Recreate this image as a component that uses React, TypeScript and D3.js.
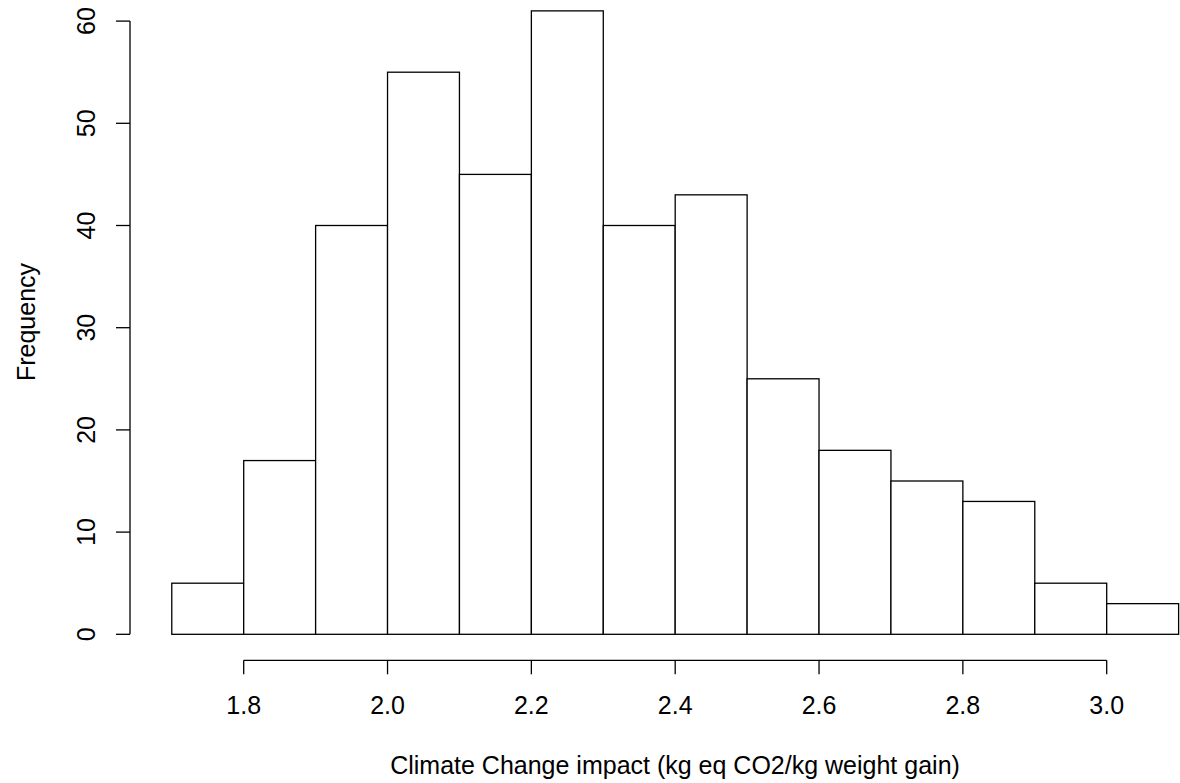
import React from 'react';
import * as d3 from 'd3';

// histogram bins (left edges) and counts
const binStarts = [1.7, 1.8, 1.9, 2.0, 2.1, 2.2, 2.3, 2.4, 2.5, 2.6, 2.7, 2.8, 2.9, 3.0];
const counts = [5, 17, 40, 55, 45, 61, 40, 43, 25, 18, 15, 13, 5, 3];
const binWidth = 0.1;
const xTicks = [1.8, 2.0, 2.2, 2.4, 2.6, 2.8, 3.0];
const yTicks = [0, 10, 20, 30, 40, 50, 60];

const W = 1180, H = 783;
const font = '"Liberation Sans", Arial, sans-serif';
const fs = 25;

export default function App() {
  const x = d3.scaleLinear().domain([1.8, 3.0]).range([243.7, 1106.7]);
  const y = d3.scaleLinear().domain([0, 60]).range([634.3, 21.1]);
  const axisY = 660.3;
  const axisX = 130;

  return (
    <svg width={W} height={H} style={{ position: 'absolute', left: 0, top: 0, background: '#fff' }}>
      <g fill="#fff" stroke="#000" strokeWidth={1.3}>
        {binStarts.map((b, i) => (
          <rect key={i} x={x(b)} y={y(counts[i])} width={x(b + binWidth) - x(b)} height={y(0) - y(counts[i])} />
        ))}
      </g>
      {/* x axis */}
      <g stroke="#000" strokeWidth={1.3} fill="none">
        <line x1={x(xTicks[0])} x2={x(xTicks[xTicks.length - 1])} y1={axisY} y2={axisY} />
        {xTicks.map(t => (
          <line key={t} x1={x(t)} x2={x(t)} y1={axisY} y2={axisY + 14} />
        ))}
      </g>
      <g fontFamily={font} fontSize={fs} fill="#000" textAnchor="middle">
        {xTicks.map(t => (
          <text key={t} x={x(t)} y={714}>{d3.format('.1f')(t)}</text>
        ))}
      </g>
      {/* y axis */}
      <g stroke="#000" strokeWidth={1.3} fill="none">
        <line x1={axisX} x2={axisX} y1={y(0)} y2={y(60)} />
        {yTicks.map(t => (
          <line key={t} x1={axisX - 14} x2={axisX} y1={y(t)} y2={y(t)} />
        ))}
      </g>
      <g fontFamily={font} fontSize={fs} fill="#000" textAnchor="middle">
        {yTicks.map(t => (
          <text key={t} transform={`translate(${95},${y(t)}) rotate(-90)`}>{t}</text>
        ))}
        <text transform={`translate(${35},${322}) rotate(-90)`}>Frequency</text>
        <text x={675} y={774}>Climate Change impact (kg eq CO2/kg weight gain)</text>
      </g>
    </svg>
  );
}
